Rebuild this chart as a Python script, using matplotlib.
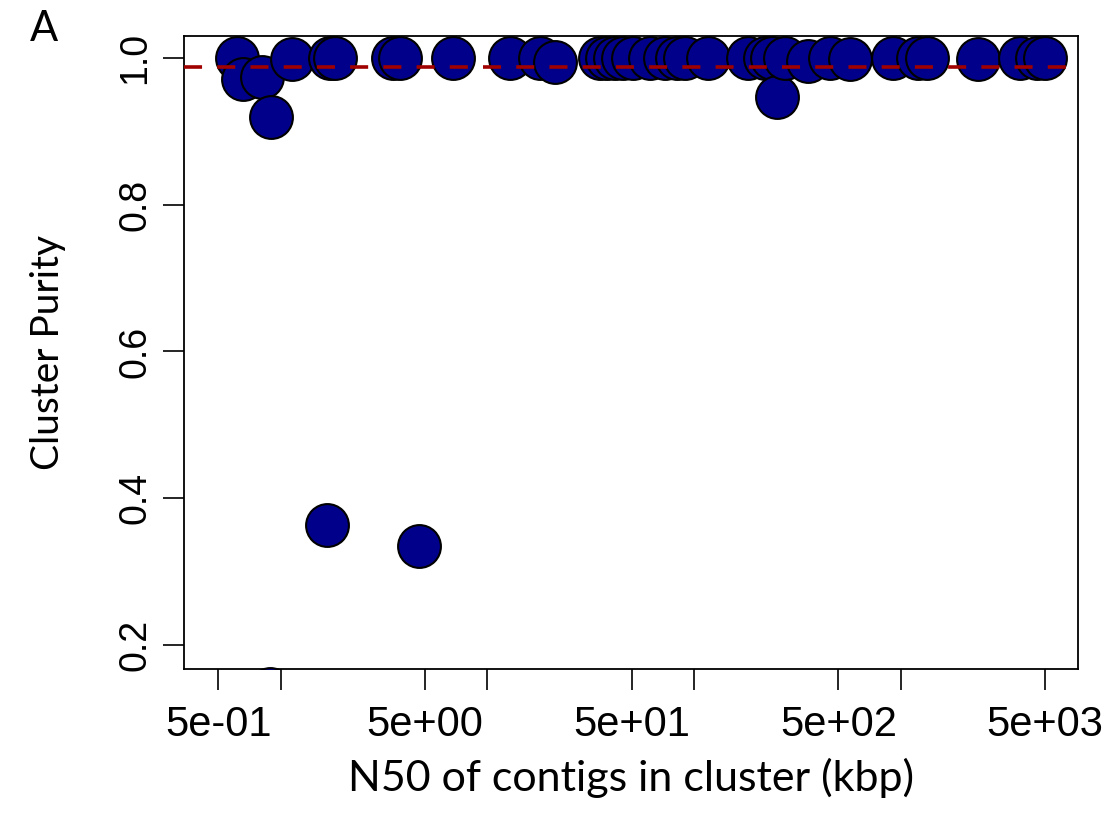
import numpy as np
import matplotlib
matplotlib.use('Agg')
import matplotlib.pyplot as plt

# N50 (kbp) and purity of each cluster
n50 = [0.614, 0.658, 0.813, 0.899, 0.889, 1.14, 1.68, 1.74, 1.83, 3.50,
       3.79, 4.68, 6.83, 12.9, 18.0, 21.3, 35.1, 38.0, 41.5, 45.4,
       50.7, 61.3, 72.5, 82.8, 90.6, 117, 183, 221, 239, 252,
       276, 356, 455, 569, 918, 1214, 1342, 2368, 3780, 4570, 4990]
purity = [1.0, 0.971, 0.974, 0.919, 0.140, 0.999, 0.364, 1.0, 1.0, 1.0,
          1.0, 0.335, 1.0, 1.0, 1.0, 0.995, 1.0, 1.0, 1.0, 1.0,
          1.0, 1.0, 1.0, 1.0, 1.0, 1.0, 1.0, 1.0, 1.0, 0.947,
          1.0, 0.996, 1.0, 0.998, 1.0, 1.0, 1.0, 0.999, 1.0, 1.0, 1.0]
mean_purity = 0.988

xticks = [0.5, 1, 5, 10, 50, 100, 500, 1000, 5000]
xticklabels = ['5e-01', '', '5e+00', '', '5e+01', '', '5e+02', '', '5e+03']
yticks = [0.2, 0.4, 0.6, 0.8, 1.0]

fig = plt.figure(figsize=(11.12, 8.25), dpi=100)
ax = fig.add_axes([0.1655, 0.1891, 0.8037, 0.7673])

ax.scatter(n50, purity, s=950, c='#00008B', edgecolors='black',
           linewidths=1.5, zorder=3)
ax.axhline(mean_purity, color='#A00000', linestyle=(0, (5, 4.2)),
           linewidth=2.6, zorder=4)

ax.set_xscale('log')
ax.set_xlim(0.3412, 7190)
ax.set_ylim(0.1673, 1.030)

ax.set_xticks(xticks)
ax.set_xticklabels(xticklabels, fontfamily='Liberation Sans', fontsize=30)
ax.xaxis.set_minor_locator(matplotlib.ticker.NullLocator())
ax.set_yticks(yticks)
ax.set_yticklabels(['0.2', '0.4', '0.6', '0.8', '1.0'],
                   fontfamily='Liberation Sans', fontsize=27,
                   rotation=90, va='center')
ax.tick_params(axis='both', length=15, width=1.2, direction='out')
ax.tick_params(axis='x', pad=11)
ax.tick_params(axis='y', pad=7)

for sp in ax.spines.values():
    sp.set_linewidth(1.3)

ax.set_xlabel('N50 of contigs in cluster (kbp)', fontfamily='Lato',
              fontsize=31, labelpad=9)
ax.set_ylabel('Cluster Purity', fontfamily='Lato', fontsize=28,
              labelpad=37)
fig.text(0.027, 0.965, 'A', fontfamily='Lato', fontsize=30,
         ha='left', va='center')

fig.savefig('out.png', dpi=100)
